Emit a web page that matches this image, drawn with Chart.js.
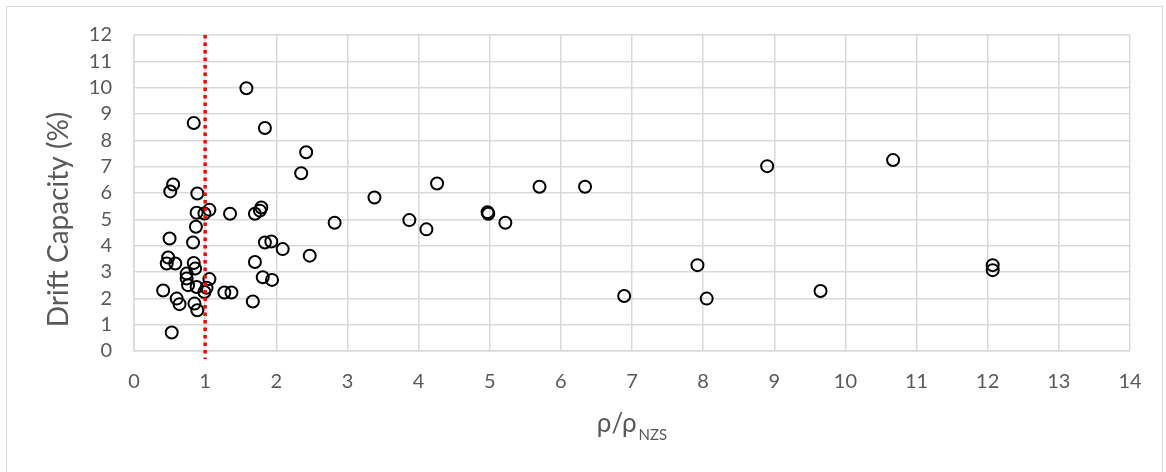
<html lang="en">
<head>
<meta charset="UTF-8">
<title>Drift Capacity</title>
<script src="https://cdn.jsdelivr.net/npm/chart.js"></script>
<style>
    body, html {
        margin: 0;
        background: #fff;
        overflow: hidden;
    }
    /* light grey frame around the chart, like the spreadsheet chart box */
    .frame {
        position: absolute;
        left: 6px;
        top: 6px;
        width: 1155px;
        height: 520px;
        border: 1px solid #d9d9d9;
    }
    #driftChart {
        position: absolute;
        left: 0;
        top: 0;
    }
</style>
</head>
<body>
<div class="frame"></div>
<canvas id="driftChart" width="1166" height="472"></canvas>

<script>
    // ρ/ρNZS of each specimen
    const rhoRatio = [
        0.53, 0.41, 0.60, 0.64, 0.85, 0.89, 0.76, 0.88, 0.74, 0.74,
        0.86, 0.84, 0.46, 0.58, 0.48, 0.50, 0.83, 0.87, 1.06, 1.02,
        0.99, 1.27, 1.37, 0.51, 0.55, 0.89, 0.88, 0.99, 1.06, 1.35,
        1.70, 1.77, 1.79, 0.84, 1.58, 1.84, 2.42, 2.35, 1.84, 1.93,
        2.09, 2.47, 1.70, 1.81, 1.94, 1.67,
        2.82, 3.38, 3.87, 4.11, 4.26, 4.97, 4.98, 5.22, 5.70, 6.34,
        6.89, 7.92, 8.05, 8.90, 9.65, 10.67, 12.07, 12.07
    ];
    // drift capacity (%) of each specimen
    const driftCapacity = [
        0.70, 2.30, 1.99, 1.78, 1.80, 1.55, 2.50, 2.43, 2.75, 2.94,
        3.13, 3.34, 3.32, 3.32, 3.55, 4.27, 4.12, 4.72, 2.73, 2.40,
        2.24, 2.22, 2.22, 6.06, 6.32, 5.98, 5.25, 5.22, 5.36, 5.21,
        5.21, 5.33, 5.45, 8.66, 9.98, 8.47, 7.55, 6.75, 4.12, 4.16,
        3.87, 3.62, 3.38, 2.80, 2.70, 1.88,
        4.87, 5.83, 4.97, 4.62, 6.36, 5.27, 5.21, 4.87, 6.24, 6.24,
        2.09, 3.26, 1.99, 7.02, 2.28, 7.25, 3.26, 3.07
    ];
    // red dotted limit line at ρ/ρNZS = 1
    const limitX = [1, 1];
    const limitY = [12, -0.3];

    const yTitle = 'Drift Capacity (%)';
    const xTitleMain = 'ρ/ρ';
    const xTitleSub = 'NZS';

    const points = rhoRatio.map((x, i) => ({ x: x, y: driftCapacity[i] }));
    const limitPoints = limitX.map((x, i) => ({ x: x, y: limitY[i] }));

    // draws both axis titles (x title needs a subscript)
    const axisTitles = {
        id: 'axisTitles',
        afterDraw(chart) {
            const ctx = chart.ctx;
            const area = chart.chartArea;
            ctx.save();
            ctx.fillStyle = '#595959';

            // y title, rotated
            ctx.save();
            ctx.translate(68, 219.5);
            ctx.rotate(-Math.PI / 2);
            ctx.font = '28px Lato';
            ctx.textAlign = 'center';
            ctx.textBaseline = 'alphabetic';
            ctx.fillText(yTitle, 0, 0);
            ctx.restore();

            // x title with subscript
            ctx.textBaseline = 'alphabetic';
            ctx.textAlign = 'left';
            ctx.font = '26px Lato';
            const w1 = ctx.measureText(xTitleMain).width;
            ctx.font = '15px Lato';
            const w2 = ctx.measureText(xTitleSub).width;
            const startX = (area.left + area.right) / 2 - (w1 + 2 + w2) / 2;
            ctx.font = '26px Lato';
            ctx.fillText(xTitleMain, startX, 432);
            ctx.font = '15px Lato';
            ctx.fillText(xTitleSub, startX + w1 + 2, 439.5);
            ctx.restore();
        }
    };

    Chart.defaults.font.family = 'Lato';

    new Chart(document.getElementById('driftChart').getContext('2d'), {
        type: 'scatter',
        data: {
            datasets: [
                {
                    label: 'limit',
                    type: 'line',
                    data: limitPoints,
                    borderColor: '#ff0000',
                    borderWidth: 3.5,
                    borderDash: [3.5, 4],
                    pointRadius: 0,
                    fill: false,
                    clip: false,
                    order: 0
                },
                {
                    label: 'specimens',
                    data: points,
                    pointStyle: 'circle',
                    pointRadius: 6,
                    pointHoverRadius: 6,
                    borderWidth: 2,
                    borderColor: '#000000',
                    backgroundColor: 'rgba(0,0,0,0)',
                    order: 1
                }
            ]
        },
        options: {
            responsive: false,
            animation: false,
            events: [],
            layout: { padding: { left: 0, right: 36, top: 35, bottom: 0 } },
            plugins: {
                legend: { display: false },
                tooltip: { enabled: false }
            },
            scales: {
                x: {
                    type: 'linear',
                    min: 0,
                    max: 14,
                    ticks: { stepSize: 1, autoSkip: false, padding: 19, color: '#595959', font: { size: 20 } },
                    grid: { color: '#d9d9d9', lineWidth: 1.5, drawTicks: false },
                    border: { color: '#d9d9d9', width: 1.5 },
                    afterFit(scale) { scale.height = 121; }
                },
                y: {
                    type: 'linear',
                    min: 0,
                    max: 12,
                    ticks: { stepSize: 1, autoSkip: false, padding: 22, color: '#595959', font: { size: 20 } },
                    grid: { color: '#d9d9d9', lineWidth: 1.5, drawTicks: false },
                    border: { color: '#d9d9d9', width: 1.5 },
                    afterFit(scale) { scale.width = 134; }
                }
            }
        },
        plugins: [axisTitles]
    });
</script>
</body>
</html>
